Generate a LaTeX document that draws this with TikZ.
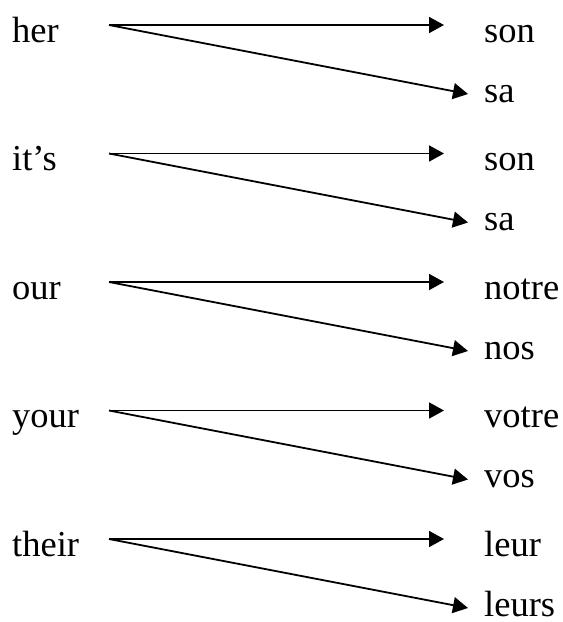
\documentclass[tikz,border=0pt]{standalone}
\usepackage{fontspec}
\setmainfont{Liberation Serif}
\usetikzlibrary{arrows.meta}
\begin{document}
\begin{tikzpicture}[x=1pt,y=-1pt,
  word/.style={anchor=base west, inner sep=0pt, font=\fontsize{36.5}{40}\selectfont},
  link/.style={line width=1.8pt, -{Triangle[length=15pt,width=16pt]}}]
\useasboundingbox (0,0) rectangle (563,622);
% English possessive on the left, its French forms on the right
\foreach \src/\one/\two [count=\i from 0] in
  {her/son/sa, it's/son/sa, our/notre/nos, your/votre/vos, their/leur/leurs} {
  \pgfmathsetmacro{\yb}{42+128.5*\i}
  \pgfmathsetmacro{\yl}{\yb+60}
  \node[word] (src\i) at (12,\yb) {\src};
  \node[word] (one\i) at (484,\yb) {\one};
  \node[word] (two\i) at (484,\yl) {\two};
  \coordinate (out\i) at ([xshift=97pt,yshift=17pt]src\i.base west);
  \coordinate (inone\i) at ([xshift=-40pt,yshift=17pt]one\i.base west);
  \coordinate (intwo\i) at ([xshift=-16pt,yshift=8pt]two\i.base west);
  \draw[link] (out\i) -- (inone\i);
  \draw[link] (out\i) -- (intwo\i);
}
\end{tikzpicture}
\end{document}
